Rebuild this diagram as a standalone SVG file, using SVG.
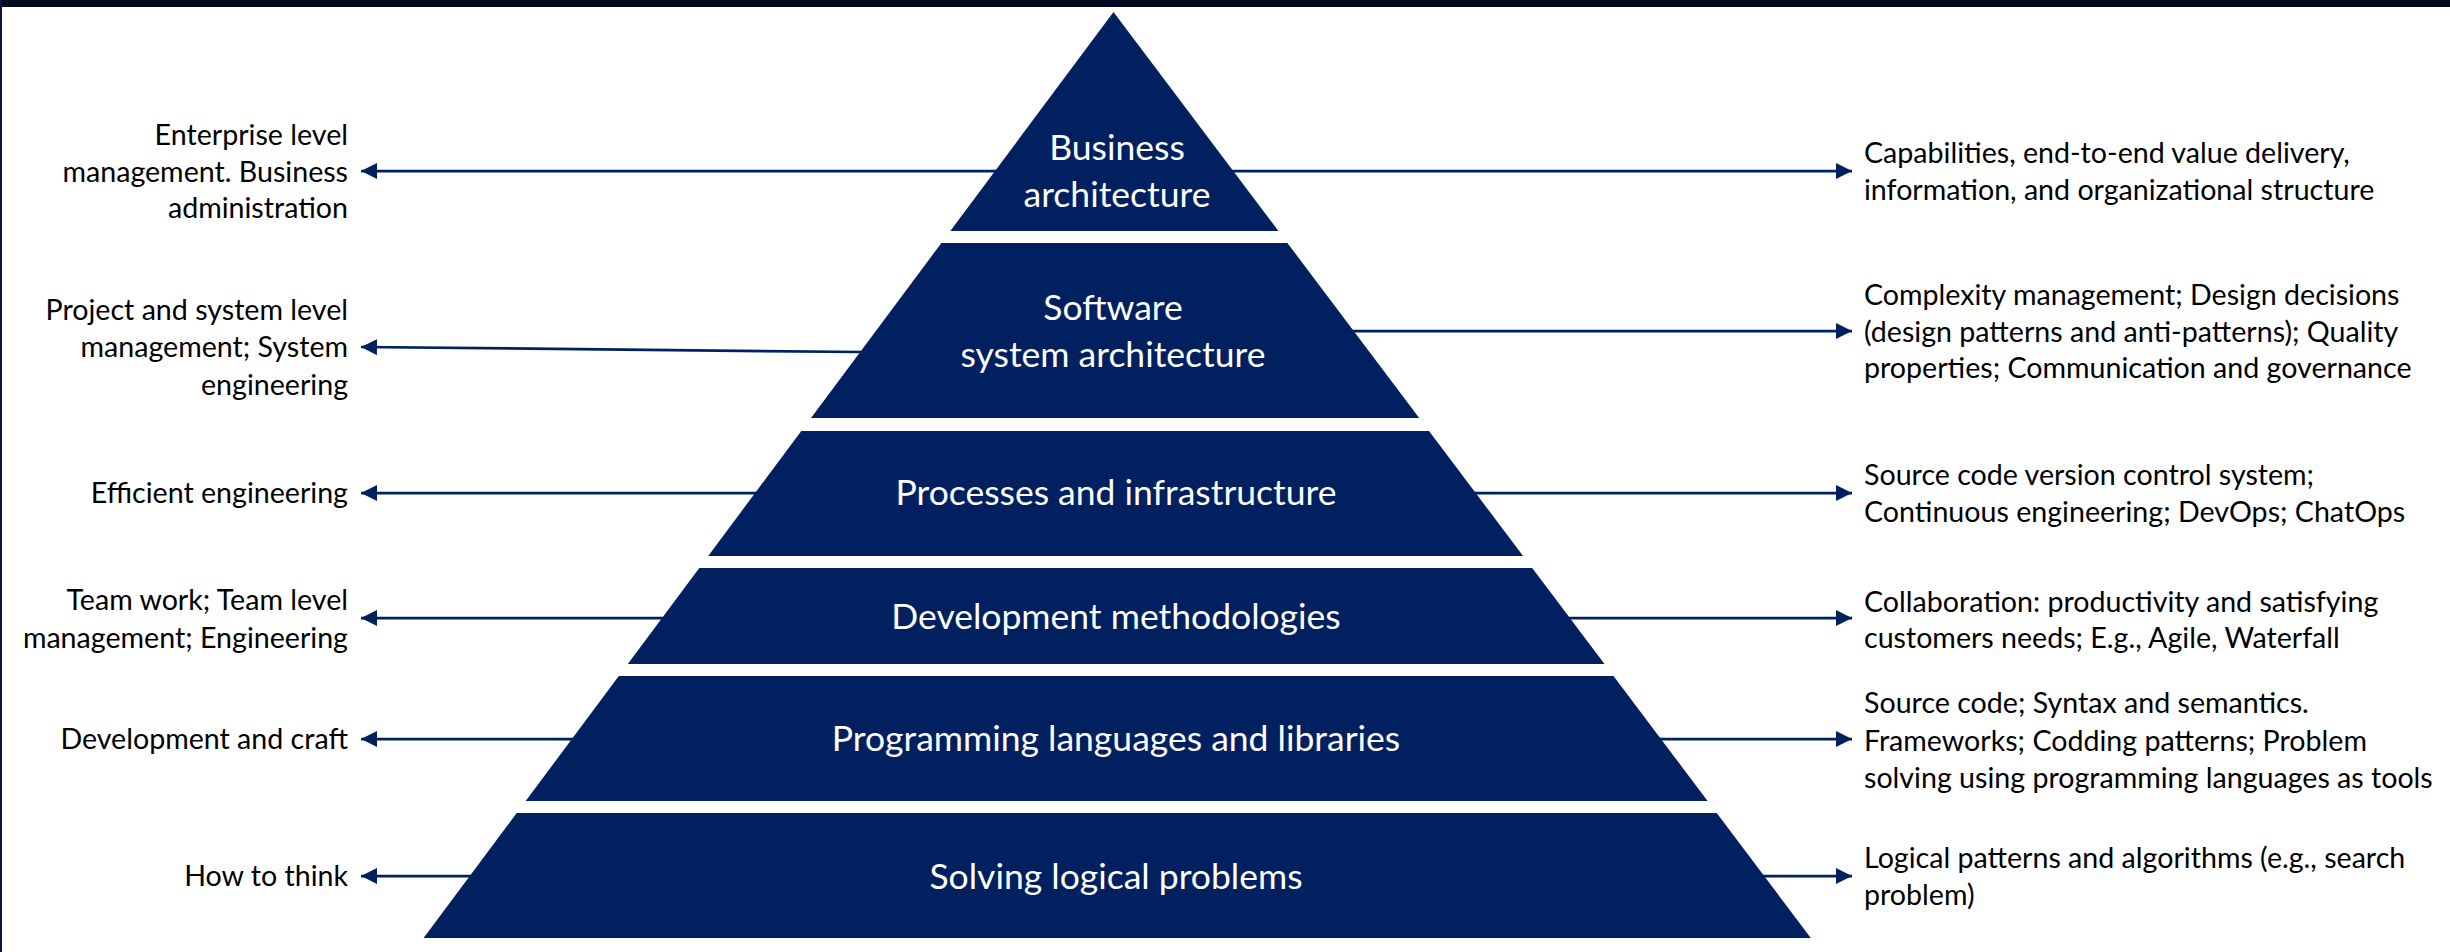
<svg xmlns="http://www.w3.org/2000/svg" width="2450" height="952" viewBox="0 0 2450 952">
<defs>
<style>
.tier{fill:#002060}
.tt{font-family:Lato,"Liberation Sans",sans-serif;font-size:35.5px;fill:#ffffff;text-anchor:middle}
.lbl{font-family:Lato,"Liberation Sans",sans-serif;font-size:28.6px;fill:#000000}
.l{text-anchor:end}
.conn line{stroke:#002060;stroke-width:2.75;fill:none;marker-end:url(#ah)}
</style>
<marker id="ah" markerUnits="userSpaceOnUse" markerWidth="17" markerHeight="17" refX="16" refY="8" orient="auto">
<path d="M0,0 L16,8 L0,16 z" fill="#002060"/>
</marker>
</defs>
<rect x="0" y="0" width="2450" height="952" fill="#ffffff"/>
<rect x="0" y="0" width="2450" height="7" fill="#030a24"/>
<rect x="0" y="0" width="2" height="952" fill="#0a1540"/>
<g id="connectors" class="conn">
<line x1="1000" y1="171" x2="361" y2="171"/>
<line x1="1230" y1="171" x2="1852" y2="171"/>
<line x1="862" y1="352" x2="361" y2="347"/>
<line x1="1350" y1="331" x2="1852" y2="331"/>
<line x1="760" y1="493" x2="361" y2="493"/>
<line x1="1472" y1="493" x2="1852" y2="493"/>
<line x1="666" y1="618" x2="361" y2="618"/>
<line x1="1567" y1="618" x2="1852" y2="618"/>
<line x1="576" y1="739" x2="361" y2="739"/>
<line x1="1657" y1="739" x2="1852" y2="739"/>
<line x1="474" y1="876" x2="361" y2="876"/>
<line x1="1760" y1="876" x2="1852" y2="876"/>
</g>
<g id="tier-business">
<polygon class="tier" points="1113.5,12 1278.4,231 950.3,231"/>
<text class="tt" x="1117" y="160">Business</text>
<text class="tt" x="1117" y="207">architecture</text>
</g>
<g id="tier-software">
<polygon class="tier" points="941.4,243 1287.4,243 1419.2,418 811,418"/>
<text class="tt" x="1113" y="320">Software</text>
<text class="tt" x="1113" y="367">system architecture</text>
</g>
<g id="tier-processes">
<polygon class="tier" points="801.3,431 1429,431 1523.1,556 708.2,556"/>
<text class="tt" x="1116" y="505">Processes and infrastructure</text>
</g>
<g id="tier-methodologies">
<polygon class="tier" points="699.3,568 1532.2,568 1604.5,664 627.8,664"/>
<text class="tt" x="1116" y="629">Development methodologies</text>
</g>
<g id="tier-languages">
<polygon class="tier" points="618.8,676 1613.5,676 1707.6,801 525.7,801"/>
<text class="tt" x="1116" y="751">Programming languages and libraries</text>
</g>
<g id="tier-logic">
<polygon class="tier" points="516.7,813 1716.7,813 1810.8,938 423.6,938"/>
<text class="tt" x="1116" y="889">Solving logical problems</text>
</g>
<g id="left-labels">
<text class="lbl l" x="348" y="145">Enterprise level</text>
<text class="lbl l" x="348" y="182">management. Business</text>
<text class="lbl l" x="348" y="218">administration</text>
<text class="lbl l" x="348" y="320">Project and system level</text>
<text class="lbl l" x="348" y="357">management; System</text>
<text class="lbl l" x="348" y="395">engineering</text>
<text class="lbl l" x="348" y="503">Efficient engineering</text>
<text class="lbl l" x="348" y="610">Team work; Team level</text>
<text class="lbl l" x="348" y="648">management; Engineering</text>
<text class="lbl l" x="348" y="749">Development and craft</text>
<text class="lbl l" x="348" y="886">How to think</text>
</g>
<g id="right-labels">
<text class="lbl" x="1864" y="163">Capabilities, end-to-end value delivery,</text>
<text class="lbl" x="1864" y="200">information, and organizational structure</text>
<text class="lbl" x="1864" y="305">Complexity management; Design decisions</text>
<text class="lbl" x="1864" y="342">(design patterns and anti-patterns); Quality</text>
<text class="lbl" x="1864" y="378">properties; Communication and governance</text>
<text class="lbl" x="1864" y="485">Source code version control system;</text>
<text class="lbl" x="1864" y="522">Continuous engineering; DevOps; ChatOps</text>
<text class="lbl" x="1864" y="612">Collaboration: productivity and satisfying</text>
<text class="lbl" x="1864" y="648">customers needs; E.g., Agile, Waterfall</text>
<text class="lbl" x="1864" y="713">Source code; Syntax and semantics.</text>
<text class="lbl" x="1864" y="751">Frameworks; Codding patterns; Problem</text>
<text class="lbl" x="1864" y="788">solving using programming languages as tools</text>
<text class="lbl" x="1864" y="868">Logical patterns and algorithms (e.g., search</text>
<text class="lbl" x="1864" y="905">problem)</text>
</g>
</svg>
